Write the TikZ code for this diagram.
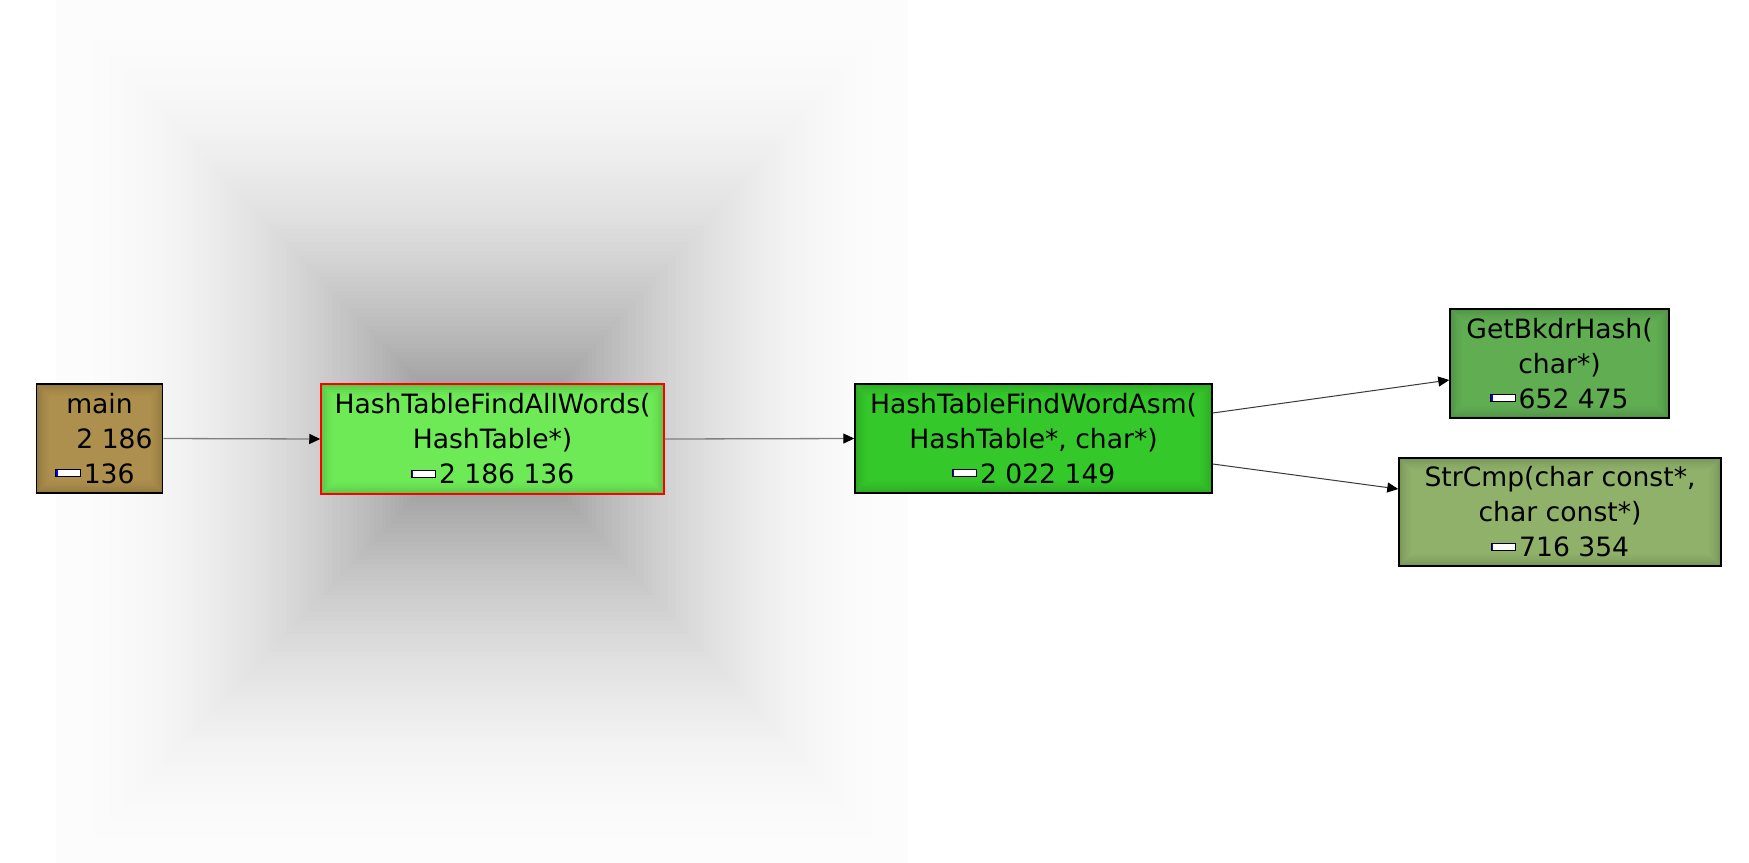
\documentclass[tikz,border=0pt]{standalone}
\usepackage{fontspec}
\setmainfont{DejaVu Sans}
\usetikzlibrary{arrows.meta}
\definecolor{cmain}{HTML}{AD904D}
\definecolor{cfaw}{HTML}{6EEA56}
\definecolor{cfwa}{HTML}{35C82B}
\definecolor{cgbh}{HTML}{60AD52}
\definecolor{cstr}{HTML}{8FB16A}
\definecolor{edgegray}{HTML}{7F7F7F}
\definecolor{edgedark}{HTML}{3A3A3A}
\newcommand\costbar{\raisebox{3.5pt}{\setlength\fboxsep{0pt}\setlength\fboxrule{0.5pt}\fcolorbox{black}{white}{\textcolor{blue}{\rule{0.7pt}{3pt}}\rule{0pt}{3pt}\hspace{11pt}}}\hspace{1.5pt}}
\tikzset{
  fnbox/.style={draw=black, line width=0.75pt, inner sep=0pt, align=center,
    font=\fontsize{13.3}{17.5}\selectfont,
    path picture={
      \foreach \d/\o in {1/0.15,3/0.11,5/0.08,7/0.05,9/0.03,11/0.015}{
        \draw[black, opacity=\o, line width=1pt]
          ([shift={(\d*0.5pt,-\d*0.5pt)}]path picture bounding box.north west) rectangle
          ([shift={(-\d*0.5pt,\d*0.5pt)}]path picture bounding box.south east);
      }
    }},
  callgray/.style={draw=edgegray, line width=0.65pt, -{Triangle[length=5.5pt,width=5pt,color=black]}},
  calldark/.style={draw=edgedark, line width=0.5pt, -{Triangle[length=5.5pt,width=5pt,color=black]}}
}
\begin{document}
\begin{tikzpicture}[x=0.5pt,y=-0.5pt]
\useasboundingbox (0,0) rectangle (1749,862);
\fill[white] (0,0) rectangle (1749,862);
% selection shadow
\foreach \i in {0,...,99}{
  \pgfmathsetmacro\tv{\i/99}
  \pgfmathsetmacro\bv{0.99-0.46*\tv^2}
  \definecolor{shd}{gray}{\bv}
  \fill[shd] ({56+\tv*(470-56)},{0+\tv*(436-0)}) rectangle ({908-\tv*(908-512)},{877-\tv*(877-440)});
}
\node[fnbox, fill=cmain, minimum width=126*0.5pt, minimum height=109*0.5pt] (main) at (99.5,438.5)
  {main\\\hspace*{15pt}2 186\\\costbar136\hspace*{4.5pt}};
\node[fnbox, fill=cfaw, draw=red, minimum width=343*0.5pt, minimum height=110*0.5pt] (faw) at (492.5,439)
  {HashTableFindAllWords(\\HashTable*)\\\costbar2 186 136};
\node[fnbox, fill=cfwa, minimum width=357*0.5pt, minimum height=109*0.5pt] (fwa) at (1033.5,438.5)
  {HashTableFindWordAsm(\\HashTable*, char*)\\\costbar2 022 149};
\node[fnbox, fill=cgbh, minimum width=219*0.5pt, minimum height=109*0.5pt] (gbh) at (1559.5,363.5)
  {GetBkdrHash(\\char*)\\\costbar652 475};
\node[fnbox, fill=cstr, minimum width=322*0.5pt, minimum height=108*0.5pt] (str) at (1560,512)
  {StrCmp(char const*,\\char const*)\\\costbar716 354};
\draw[callgray] (main.east) -- (faw.west);
\draw[callgray] (faw.east) -- (fwa.west);
\draw[calldark] ([yshift=12.75pt]fwa.east) -- ([yshift=-8.25pt]gbh.west);
\draw[calldark] ([yshift=-12.75pt]fwa.east) -- ([yshift=11.5pt]str.west);
\end{tikzpicture}
\end{document}
